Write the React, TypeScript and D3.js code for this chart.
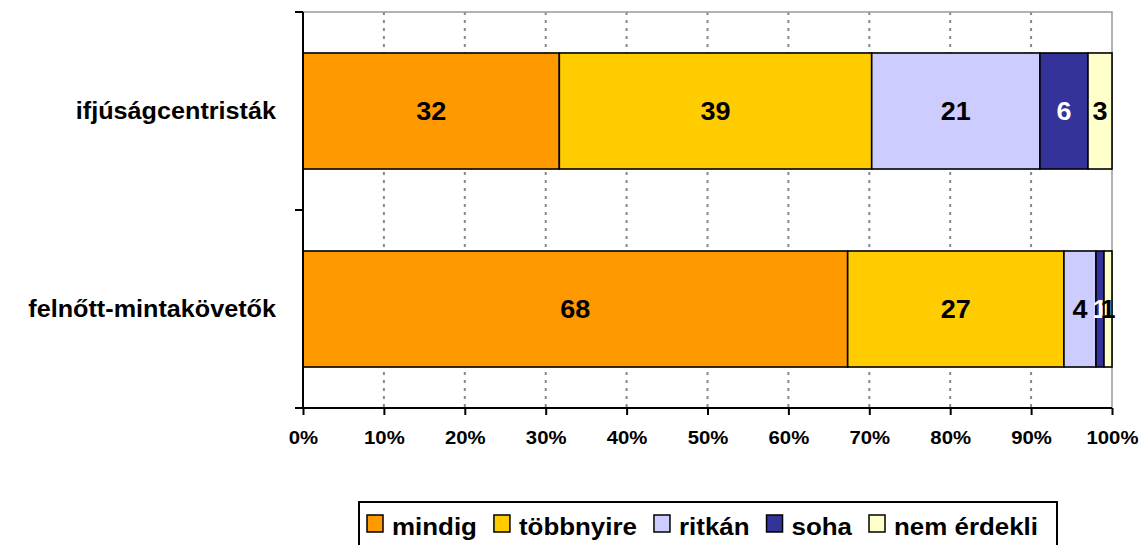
import React, { useEffect, useRef } from "react";
import * as d3 from "d3";

const categories = ["ifjúságcentristák", "felnőtt-mintakövetők"];
const seriesNames = ["mindig", "többnyire", "ritkán", "soha", "nem érdekli"];
const mindig = [32, 68];
const tobbnyire = [39, 27];
const ritkan = [21, 4];
const soha = [6, 1];
const nemErdekli = [3, 1];
const seriesColors = ["#FF9900", "#FFCC00", "#CCCCFF", "#333399", "#FFFFCC"];
const labelColors = ["#000", "#000", "#000", "#fff", "#000"];
const tickValues = [0, 0.1, 0.2, 0.3, 0.4, 0.5, 0.6, 0.7, 0.8, 0.9, 1];

const FONT = "'Liberation Sans', Arial, Helvetica, sans-serif";

const App = () => {
  const svgRef = useRef<SVGSVGElement | null>(null);

  useEffect(() => {
    drawChart();
  }, []);

  const drawChart = () => {
    const root = d3.select(svgRef.current);
    root.selectAll("*").remove();

    const width = 1146;
    const height = 545;
    const plot = { left: 303, right: 1112, top: 12, bottom: 408 };

    const rows = categories.map((c, i) => ({
      category: c,
      mindig: mindig[i],
      "többnyire": tobbnyire[i],
      "ritkán": ritkan[i],
      soha: soha[i],
      "nem érdekli": nemErdekli[i],
    }));

    const x = d3.scaleLinear().domain([0, 1]).range([plot.left, plot.right]);
    const y = d3
      .scaleBand()
      .domain(categories)
      .range([plot.top, plot.bottom])
      .paddingInner(0.414)
      .paddingOuter(0.207);

    const stack = d3
      .stack<any>()
      .keys(seriesNames)
      .offset(d3.stackOffsetExpand)(rows);

    const svg = root.attr("width", width).attr("height", height).attr("font-family", FONT);

    svg.append("rect").attr("width", width).attr("height", height).attr("fill", "#fff");

    // dashed gridlines
    svg
      .append("g")
      .selectAll("line")
      .data(tickValues.slice(1, -1))
      .enter()
      .append("line")
      .attr("x1", (d) => x(d))
      .attr("x2", (d) => x(d))
      .attr("y1", plot.top)
      .attr("y2", plot.bottom)
      .attr("stroke", "#888")
      .attr("stroke-width", 2)
      .attr("stroke-dasharray", "3,5");

    // plot border top / right
    svg
      .append("path")
      .attr("d", `M${plot.left},${plot.top}H${plot.right}V${plot.bottom}`)
      .attr("fill", "none")
      .attr("stroke", "#999")
      .attr("stroke-width", 1.5);

    // bars
    const layers = svg
      .selectAll(".layer")
      .data(stack)
      .enter()
      .append("g")
      .attr("fill", (d, i) => seriesColors[i]);

    layers
      .selectAll("rect")
      .data((d) => d)
      .enter()
      .append("rect")
      .attr("x", (d) => x(d[0]))
      .attr("y", (d) => y(d.data.category) as number)
      .attr("width", (d) => x(d[1]) - x(d[0]))
      .attr("height", y.bandwidth())
      .attr("stroke", "#000")
      .attr("stroke-width", 1.6);

    // value labels
    stack.forEach((layer, i) => {
      svg
        .append("g")
        .selectAll("text")
        .data(layer)
        .enter()
        .append("text")
        .attr(
          "transform",
          (d) =>
            `translate(${(x(d[0]) + x(d[1])) / 2},${(y(d.data.category) as number) + y.bandwidth() / 2}) scale(1.08,1)`
        )
        .attr("dy", "0.36em")
        .attr("text-anchor", "middle")
        .attr("font-size", 25)
        .attr("font-weight", "bold")
        .attr("fill", labelColors[i])
        .text((d) => d.data[seriesNames[i]]);
    });

    // axes
    const xAxis = svg
      .append("g")
      .attr("transform", `translate(0,${plot.bottom})`)
      .call(
        d3
          .axisBottom(x)
          .tickValues(tickValues)
          .tickSize(7)
          .tickPadding(16)
          .tickFormat(d3.format(".0%"))
      );
    xAxis.select(".domain").attr("stroke", "#000").attr("stroke-width", 2).attr("d", `M${plot.left},0H${plot.right}`);
    xAxis.selectAll(".tick line").attr("stroke", "#000").attr("stroke-width", 2);
    xAxis
      .selectAll(".tick text")
      .attr("font-family", FONT)
      .attr("font-size", 19)
      .attr("font-weight", "bold")
      .attr("fill", "#000")
      .attr("transform", "translate(0,29) scale(1.07,1)")
      .attr("y", 0)
      .attr("dy", "0.36em");

    // y axis line with boundary ticks
    const yTicks = [plot.top, plot.top + y.step(), plot.bottom];
    svg
      .append("line")
      .attr("x1", plot.left)
      .attr("x2", plot.left)
      .attr("y1", plot.top)
      .attr("y2", plot.bottom)
      .attr("stroke", "#000")
      .attr("stroke-width", 2);
    svg
      .append("g")
      .selectAll("line")
      .data(yTicks)
      .enter()
      .append("line")
      .attr("x1", plot.left - 8)
      .attr("x2", plot.left)
      .attr("y1", (d) => d)
      .attr("y2", (d) => d)
      .attr("stroke", "#000")
      .attr("stroke-width", 2);

    svg
      .append("g")
      .selectAll("text")
      .data(categories)
      .enter()
      .append("text")
      .attr("transform", (d) => `translate(276,${(y(d) as number) + y.bandwidth() / 2 - 1}) scale(1.05,1)`)
      .attr("dy", "0.36em")
      .attr("text-anchor", "end")
      .attr("font-size", 24)
      .attr("font-weight", "bold")
      .text((d) => d);

    // legend
    const legend = svg.append("g");
    legend
      .append("rect")
      .attr("x", 359)
      .attr("y", 502)
      .attr("width", 698)
      .attr("height", 60)
      .attr("fill", "#fff")
      .attr("stroke", "#000")
      .attr("stroke-width", 2);
    let lx = 367;
    seriesNames.forEach((name, i) => {
      legend
        .append("rect")
        .attr("x", lx)
        .attr("y", 515)
        .attr("width", 16)
        .attr("height", 17)
        .attr("fill", seriesColors[i])
        .attr("stroke", "#000")
        .attr("stroke-width", 1.5);
      const t = legend
        .append("text")
        .attr("transform", `translate(${lx + 25},535) scale(1.08,1)`)
        .attr("font-size", 24)
        .attr("font-weight", "bold")
        .text(name);
      const w = (t.node() as SVGTextElement).getComputedTextLength() * 1.08;
      lx = lx + 25 + w + 17;
    });
  };

  return (
    <svg
      ref={svgRef}
      width={1146}
      height={545}
      style={{ position: "absolute", left: 0, top: 0 }}
    ></svg>
  );
};

export default App;
